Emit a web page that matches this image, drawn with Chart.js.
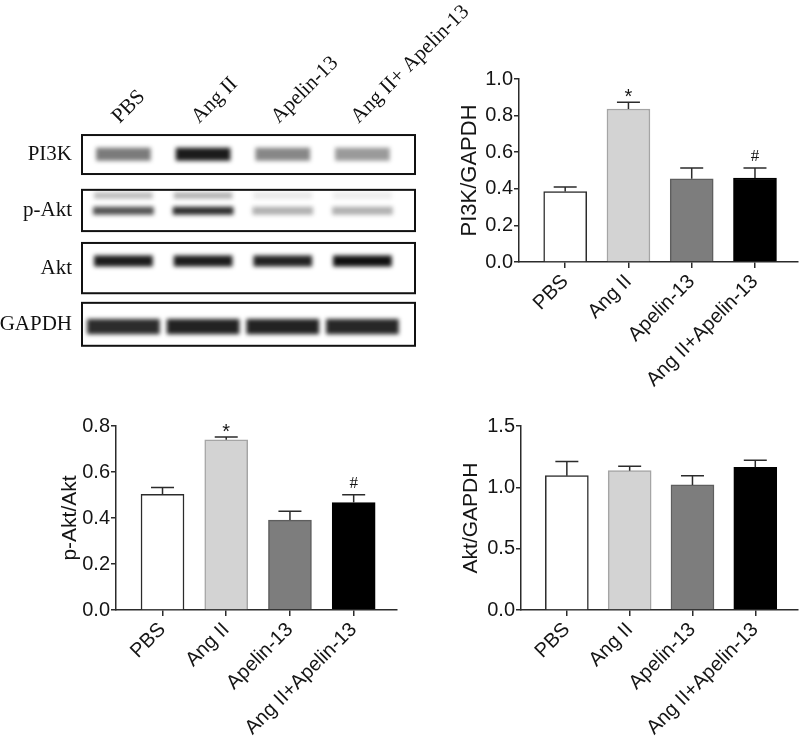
<!DOCTYPE html>
<html>
<head>
<meta charset="utf-8">
<script src="https://cdn.jsdelivr.net/npm/chart.js@4.4.0/dist/chart.umd.min.js"></script>
<style>
  html, body { margin: 0; padding: 0; background: #fff; }
  #fig { position: relative; width: 800px; height: 738px; overflow: hidden; }
  #fig canvas { position: absolute; }
</style>
</head>
<body>
<div id="fig">
  <canvas id="blot" width="520" height="380" style="left:0;top:0;width:520px;height:380px"></canvas>
  <canvas id="pi3kChart" width="360" height="400" style="left:440px;top:40px;width:360px;height:400px"></canvas>
  <canvas id="paktChart" width="420" height="338" style="left:0;top:400px;width:420px;height:338px"></canvas>
  <canvas id="aktChart" width="360" height="338" style="left:440px;top:400px;width:360px;height:338px"></canvas>
</div>
<script>
// groups shown on the bar charts
const groups = ['PBS', 'Ang II', 'Apelin-13', 'Ang II+Apelin-13'];

// western blot panel
const blotLanes = ['PBS', 'Ang II', 'Apelin-13', 'Ang II+ Apelin-13'];
const blotRows = ['PI3K', 'p-Akt', 'Akt', 'GAPDH'];
const pi3kBand = [0.55, 0.95, 0.5, 0.42];
const paktUpperBand = [0.28, 0.32, 0.1, 0.08];
const paktLowerBand = [0.72, 0.88, 0.33, 0.33];
const aktBand = [0.95, 0.95, 0.92, 1.0];
const gapdhBand = [0.88, 0.92, 0.92, 0.9];

// PI3K/GAPDH
const pi3kMean = [0.385, 0.836, 0.455, 0.459];
const pi3kSem = [0.025, 0.037, 0.059, 0.055];
const pi3kMarks = ['', '*', '', '#'];

// p-Akt/Akt
const paktMean = [0.503, 0.740, 0.391, 0.467];
const paktSem = [0.030, 0.012, 0.038, 0.034];
const paktMarks = ['', '*', '', '#'];

// Akt/GAPDH
const aktMean = [1.095, 1.136, 1.020, 1.163];
const aktSem = [0.115, 0.035, 0.075, 0.057];
const aktMarks = ['', '', '', ''];

const barFills = ['#ffffff', '#d3d3d3', '#7d7d7d', '#000000'];
const barLines = ['#2b2b2b', '#a5a5a5', '#5e5e5e', '#000000'];
const ink = '#151515';
const sans = 'Arial, "Liberation Sans", sans-serif';
const serif = '"Times New Roman", "Liberation Serif", serif';

Chart.defaults.font.family = sans;
Chart.defaults.color = ink;

// ---------- blot ----------
// one floating bar per lane, centred on the blot row
function bandSet(levels, row, offset, half, thick) {
  return {
    data: levels.map((a, i) => ({ x: i, y: [row + offset - half, row + offset + half] })),
    backgroundColor: levels.map(a => 'rgba(15,15,15,' + a + ')'),
    borderWidth: 0,
    barThickness: thick
  };
}

// vertical extent of each blot frame, in row units
const frameSpan = [[-0.34, 0.35], [-0.37, 0.36], [-0.43, 0.46], [-0.37, 0.39]];

const blotPlugin = {
  id: 'blotFrames',
  beforeDatasetsDraw(chart) {
    chart.ctx.save();
    chart.ctx.filter = 'blur(2px)';
  },
  afterDatasetsDraw(chart) {
    chart.ctx.restore();
  },
  afterDraw(chart) {
    const ctx = chart.ctx;
    const xs = chart.scales.x, ys = chart.scales.y;
    const area = chart.chartArea;
    ctx.save();
    ctx.strokeStyle = '#111';
    ctx.lineWidth = 2;
    ctx.fillStyle = '#111';
    ctx.font = '21px ' + serif;
    blotRows.forEach((name, r) => {
      const top = ys.getPixelForValue(r + frameSpan[r][0]);
      const bot = ys.getPixelForValue(r + frameSpan[r][1]);
      ctx.strokeRect(area.left, top, area.right - area.left, bot - top);
      ctx.textAlign = 'right';
      ctx.textBaseline = 'middle';
      ctx.fillText(name, area.left - 10, (top + bot) / 2);
    });
    // lane labels, slanted
    ctx.font = '21px ' + serif;
    ctx.textAlign = 'left';
    ctx.textBaseline = 'alphabetic';
    blotLanes.forEach((name, i) => {
      ctx.save();
      ctx.translate(xs.getPixelForValue(i) - 4, 124);
      ctx.rotate(-Math.PI / 4);
      ctx.fillText(name, 0, 0);
      ctx.restore();
    });
    ctx.restore();
  }
};

new Chart(document.getElementById('blot'), {
  type: 'bar',
  data: {
    datasets: [
      bandSet(pi3kBand, 0, 0, 0.11, 54),
      bandSet(paktUpperBand, 1, -0.27, 0.05, 58),
      bandSet(paktLowerBand, 1, 0, 0.065, 60),
      bandSet(aktBand, 2, -0.11, 0.09, 58),
      bandSet(gapdhBand, 3, 0.05, 0.13, 72)
    ]
  },
  options: {
    responsive: false,
    devicePixelRatio: 1,
    animation: false,
    events: [],
    grouped: false,
    layout: { padding: { left: 82, right: 105, top: 126, bottom: 28 } },
    plugins: { legend: { display: false }, tooltip: { enabled: false } },
    scales: {
      x: { type: 'linear', offset: false, min: -0.52, max: 3.66, display: false },
      y: { type: 'linear', min: -0.5, max: 3.5, reverse: true, display: false }
    }
  },
  plugins: [blotPlugin]
});

// ---------- bar charts ----------
const errorPlugin = {
  id: 'errorBars',
  afterDatasetsDraw(chart) {
    const ctx = chart.ctx;
    const xs = chart.scales.x, ys = chart.scales.y;
    const info = chart.options.plugins.errorBars;
    ctx.save();
    ctx.strokeStyle = '#2b2b2b';
    ctx.lineWidth = 1.5;
    info.mean.forEach((m, i) => {
      const x = xs.getPixelForValue(i);
      const y0 = ys.getPixelForValue(m);
      const y1 = ys.getPixelForValue(m + info.sem[i]);
      ctx.beginPath();
      ctx.moveTo(x, y0);
      ctx.lineTo(x, y1);
      ctx.moveTo(x - 11.5, y1);
      ctx.lineTo(x + 11.5, y1);
      ctx.stroke();
      const mk = info.marks[i];
      if (mk) {
        ctx.fillStyle = ink;
        ctx.textAlign = 'center';
        ctx.textBaseline = 'alphabetic';
        if (mk === '*') {
          ctx.font = '20px ' + sans;
          ctx.fillText(mk, x, y1 + 1);
        } else {
          ctx.font = '17px ' + serif;
          ctx.fillText(mk, x, y1 - 7);
        }
      }
    });
    ctx.restore();
  }
};

function makeBarChart(id, mean, sem, marks, yMax, yStep, title, g) {
  return new Chart(document.getElementById(id), {
    type: 'bar',
    data: {
      datasets: [{
        data: mean.map((v, i) => ({ x: i, y: v })),
        backgroundColor: barFills,
        borderColor: barLines,
        borderWidth: 1.5,
        barThickness: 43
      }]
    },
    options: {
      responsive: false,
      devicePixelRatio: 1,
      animation: false,
      events: [],
      layout: { padding: { left: 0, right: g.padRight, top: g.padTop, bottom: 0 } },
      plugins: {
        legend: { display: false },
        tooltip: { enabled: false },
        errorBars: { mean: mean, sem: sem, marks: marks }
      },
      scales: {
        x: {
          type: 'linear',
          offset: false,
          min: -0.73,
          max: 3.68,
          afterBuildTicks: (s) => { s.ticks = groups.map((n, i) => ({ value: i })); },
          afterFit: (s) => { s.height = g.xAxisH; s.paddingLeft = 0; s.paddingRight = 0; },
          border: { color: '#2b2b2b', width: 1.5 },
          grid: { offset: false, drawOnChartArea: false, drawTicks: true, tickLength: 6, color: '#2b2b2b', lineWidth: 1.5 },
          ticks: {
            autoSkip: false,
            minRotation: 45,
            maxRotation: 45,
            padding: 2,
            color: ink,
            font: { size: 20 },
            callback: (v) => groups[v]
          }
        },
        y: {
          min: 0,
          max: yMax,
          afterFit: (s) => { s.width = g.axisW; s.paddingTop = 0; s.paddingBottom = 0; },
          border: { color: '#2b2b2b', width: 1.5 },
          grid: { drawOnChartArea: false, drawTicks: true, tickLength: 5, color: '#2b2b2b', lineWidth: 1.5 },
          ticks: {
            stepSize: yStep,
            padding: 1,
            color: ink,
            font: { size: 20 },
            callback: (v) => v.toFixed(1)
          },
          title: {
            display: true,
            text: title,
            color: ink,
            font: { size: g.titleSize },
            padding: { top: g.titlePad, bottom: 0 }
          }
        }
      }
    },
    plugins: [errorPlugin]
  });
}

makeBarChart('pi3kChart', pi3kMean, pi3kSem, pi3kMarks, 1.0, 0.2, 'PI3K/GAPDH',
  { axisW: 79, padRight: 2, padTop: 39, xAxisH: 178, titlePad: 17, titleSize: 22 });
makeBarChart('paktChart', paktMean, paktSem, paktMarks, 0.8, 0.2, 'p-Akt/Akt',
  { axisW: 116, padRight: 23, padTop: 26, xAxisH: 128, titlePad: 58, titleSize: 21 });
makeBarChart('aktChart', aktMean, aktSem, aktMarks, 1.5, 0.5, 'Akt/GAPDH',
  { axisW: 81, padRight: 2, padTop: 26, xAxisH: 128, titlePad: 19, titleSize: 21 });
</script>
</body>
</html>
